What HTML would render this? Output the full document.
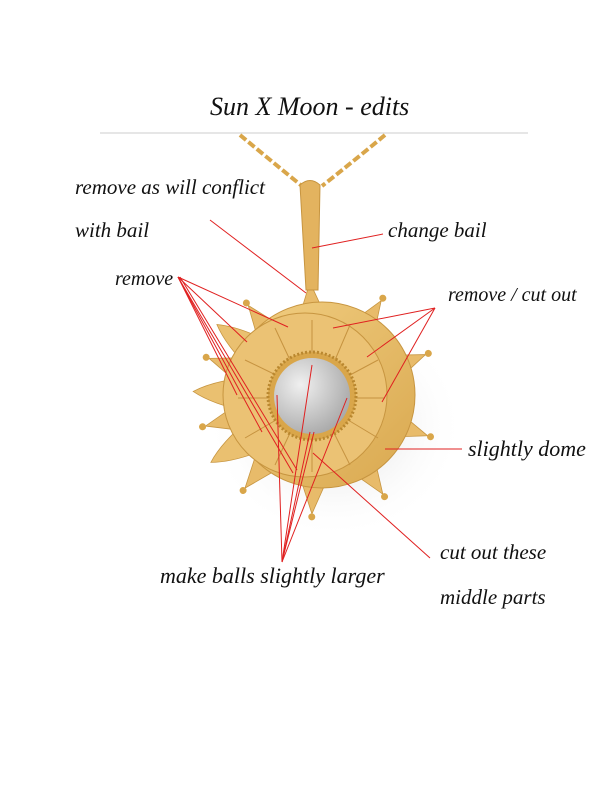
<!DOCTYPE html>
<html><head><meta charset="utf-8"><style>
html,body{margin:0;padding:0;background:#fff;}
body{width:612px;height:792px;position:relative;overflow:hidden;}
.t{position:absolute;font-family:"Liberation Serif",serif;font-style:italic;color:#111;white-space:nowrap;}
</style></head><body>
<svg width="612" height="792" style="position:absolute;left:0;top:0">
<defs>
<radialGradient id="sh" cx="0.5" cy="0.5" r="0.5"><stop offset="0" stop-color="#bbb" stop-opacity="0.6"/><stop offset="1" stop-color="#fff" stop-opacity="0"/></radialGradient>
<radialGradient id="hole" cx="0.35" cy="0.35" r="0.7"><stop offset="0" stop-color="#f0f0f0"/><stop offset="1" stop-color="#aaa"/></radialGradient>
<linearGradient id="g" x1="0" y1="0" x2="1" y2="1"><stop offset="0" stop-color="#f2cf83"/><stop offset="1" stop-color="#d9a84f"/></linearGradient>
<g id="ray"><polygon points="-13,-82 0,-116 13,-82" fill="#e8bb6a" stroke="#c79540" stroke-width="0.8"/><circle cx="0" cy="-119" r="3.5" fill="#d9a64a"/></g>
<path id="petal" d="M-17,-70 Q-12,-105 0,-125 Q12,-105 17,-70 Z" fill="#eac070" stroke="#c79540" stroke-width="0.8"/>
</defs>
<line x1="100" y1="133" x2="528" y2="133" stroke="#ccc" stroke-width="1"/>
<ellipse cx="335" cy="425" rx="130" ry="115" fill="url(#sh)"/>
<path d="M240 135 Q270 160 302 186" stroke="#d9a64a" stroke-width="4" fill="none" stroke-dasharray="8 3"/>
<path d="M385 135 Q355 160 322 186" stroke="#d9a64a" stroke-width="4" fill="none" stroke-dasharray="8 3"/>
<g transform="translate(318,398)">
<use href="#petal" transform="rotate(-54)"/>
<use href="#petal" transform="rotate(-87)"/>
<use href="#petal" transform="rotate(-121)"/>
<use href="#ray" transform="rotate(-4)"/>
<use href="#ray" transform="rotate(-37)"/>
<use href="#ray" transform="rotate(-70)"/>
<use href="#ray" transform="rotate(-104)"/>
<use href="#ray" transform="rotate(-141)"/>
<use href="#ray" transform="rotate(-177)"/>
<use href="#ray" transform="rotate(146)"/>
<use href="#ray" transform="rotate(109)"/>
<use href="#ray" transform="rotate(68)"/>
<use href="#ray" transform="rotate(33)"/>
</g>
<circle cx="322" cy="395" r="93" fill="url(#g)" stroke="#c79540"/>
<circle cx="305" cy="395" r="82" fill="#ebc274" stroke="#c79540"/>
<g stroke="#c69340" stroke-width="1" fill="none">
<line x1="312" y1="355" x2="312" y2="320"/><line x1="335" y1="360" x2="350" y2="325"/>
<line x1="350" y1="375" x2="378" y2="360"/><line x1="352" y1="398" x2="385" y2="398"/>
<line x1="348" y1="420" x2="378" y2="438"/><line x1="334" y1="433" x2="350" y2="465"/>
<line x1="312" y1="437" x2="312" y2="472"/><line x1="290" y1="433" x2="275" y2="465"/>
<line x1="276" y1="420" x2="245" y2="438"/><line x1="272" y1="398" x2="238" y2="398"/>
<line x1="276" y1="375" x2="245" y2="360"/><line x1="290" y1="360" x2="275" y2="328"/>
</g>
<circle cx="312" cy="396" r="44" fill="#d9a64a" stroke="#b9872f" stroke-dasharray="2 2" stroke-width="3"/>
<circle cx="312" cy="396" r="38" fill="url(#hole)"/>
<path d="M300 185 Q310 176 320 185 L318 290 L306 290 Z" fill="#e3b35f" stroke="#c79540"/>
<g stroke="#e02020" stroke-width="1" fill="none">
<line x1="210" y1="220" x2="306" y2="293"/>
<line x1="383" y1="234" x2="312" y2="248"/>
<line x1="178" y1="277" x2="288" y2="327"/>
<line x1="178" y1="277" x2="247" y2="342"/>
<line x1="178" y1="277" x2="237" y2="395"/>
<line x1="178" y1="277" x2="262" y2="432"/>
<line x1="178" y1="277" x2="293" y2="473"/>
<line x1="180" y1="277" x2="297" y2="470"/>
<line x1="435" y1="308" x2="333" y2="328"/>
<line x1="435" y1="308" x2="367" y2="357"/>
<line x1="435" y1="308" x2="382" y2="402"/>
<line x1="385" y1="449" x2="462" y2="449"/>
<line x1="313" y1="453" x2="430" y2="558"/>
<line x1="282" y1="562" x2="312" y2="365"/>
<line x1="282" y1="562" x2="277" y2="395"/>
<line x1="282" y1="562" x2="310" y2="432"/>
<line x1="282" y1="562" x2="314" y2="432"/>
<line x1="282" y1="562" x2="347" y2="398"/>
</g>
</svg>
<div class="t" style="left:210px;top:92px;font-size:26px">Sun X Moon - edits</div>
<div class="t" style="left:75px;top:175px;font-size:21px">remove as will conflict</div>
<div class="t" style="left:75px;top:218px;font-size:21px">with bail</div>
<div class="t" style="left:388px;top:218px;font-size:21px">change bail</div>
<div class="t" style="left:115px;top:268px;font-size:20px">remove</div>
<div class="t" style="left:448px;top:284px;font-size:20px">remove / cut out</div>
<div class="t" style="left:468px;top:436px;font-size:22px">slightly dome</div>
<div class="t" style="left:440px;top:540px;font-size:21px">cut out these</div>
<div class="t" style="left:440px;top:585px;font-size:21px">middle parts</div>
<div class="t" style="left:160px;top:563px;font-size:22px">make balls slightly larger</div>
</body></html>
